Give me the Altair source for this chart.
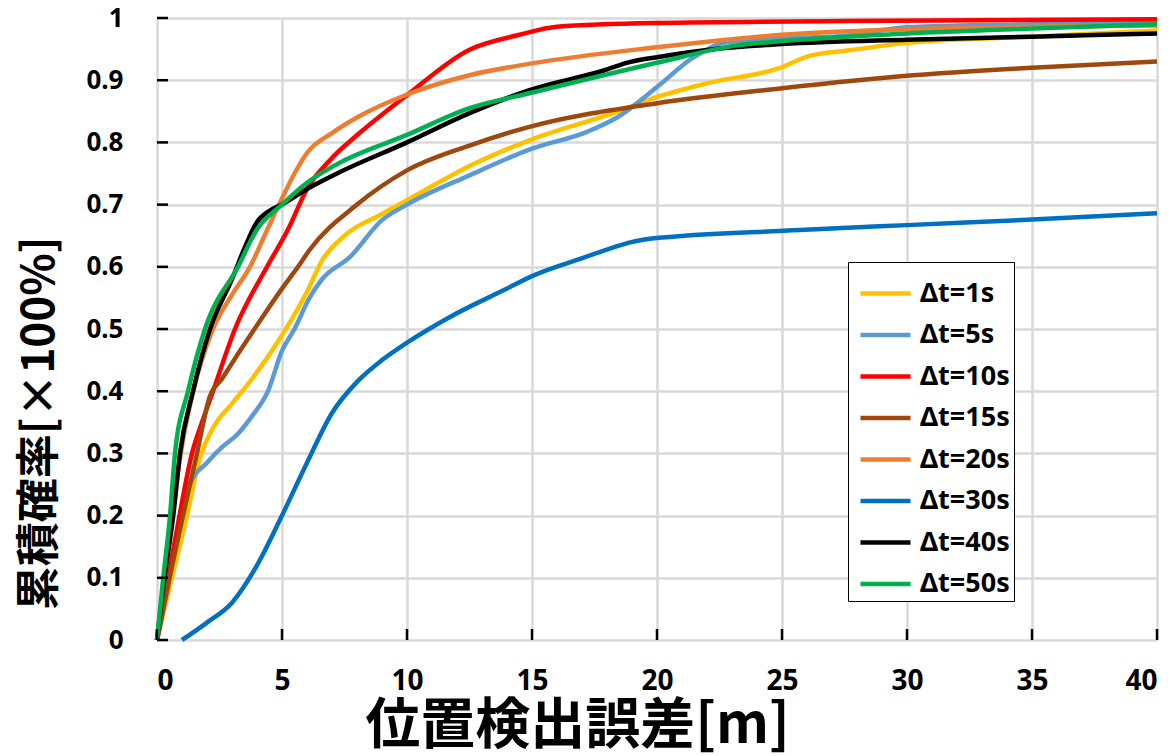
import altair as alt
import pandas as pd

# ---- data ----
series_names = ["Δt=1s", "Δt=5s", "Δt=10s", "Δt=15s", "Δt=20s", "Δt=30s", "Δt=40s", "Δt=50s"]
series_colors = ["#FFC000", "#5B9BD5", "#FF0000", "#9E480E", "#ED7D31", "#0070C0", "#000000", "#00B050"]

x_1s = [0, 0.6, 1.2, 1.7, 2.3, 3, 3.8, 5, 6, 6.6, 7.5, 9, 10, 12.5, 15, 18.4, 20, 22, 25, 26, 27.7, 30, 35, 40]
y_1s = [0, 0.1, 0.2, 0.29, 0.345, 0.38, 0.42, 0.49, 0.56, 0.61, 0.65, 0.685, 0.707, 0.762, 0.805, 0.849, 0.873, 0.895, 0.921, 0.938, 0.948, 0.96, 0.97, 0.98]

x_5s = [0, 0.5, 0.92, 1.3, 2, 2.6, 3.2, 3.8, 4.44, 5, 5.5, 6.1, 6.6, 7.7, 9, 10, 12.5, 15, 17.2, 18.4, 20, 21.4, 22.8, 25, 27.7, 30, 35, 40]
y_5s = [0, 0.1, 0.2, 0.25, 0.285, 0.31, 0.33, 0.36, 0.4, 0.465, 0.5, 0.55, 0.58, 0.615, 0.675, 0.7, 0.747, 0.79, 0.817, 0.84, 0.889, 0.935, 0.961, 0.967, 0.972, 0.985, 0.99, 0.993]

x_10s = [0, 0.45, 0.9, 1.4, 1.8, 2.24, 3.12, 4.4, 5.24, 6, 7, 8.1, 10, 12.5, 14.5, 16, 20, 27.7, 40]
y_10s = [0, 0.1, 0.2, 0.3, 0.35, 0.4, 0.5, 0.6, 0.66, 0.725, 0.775, 0.815, 0.876, 0.949, 0.973, 0.986, 0.992, 0.995, 0.998]

x_15s = [0, 0.5, 1.04, 1.6, 2.1, 2.6, 3.4, 3.9, 5, 5.64, 6.1, 8, 10, 12.5, 14.9, 20, 25, 30, 35, 40]
y_15s = [0, 0.1, 0.2, 0.3, 0.39, 0.42, 0.47, 0.5, 0.565, 0.6, 0.627, 0.7, 0.755, 0.795, 0.825, 0.863, 0.887, 0.907, 0.92, 0.93]

x_20s = [0, 0.3, 0.62, 0.95, 1.45, 2.24, 3, 3.72, 4.3, 5, 5.5, 6, 7, 8, 10, 12.5, 15, 20, 25, 30, 40]
y_20s = [0, 0.1, 0.2, 0.3, 0.4, 0.5, 0.555, 0.6, 0.65, 0.71, 0.75, 0.783, 0.815, 0.84, 0.877, 0.908, 0.927, 0.953, 0.973, 0.982, 0.988]

x_30s = [1, 2, 3, 4, 5, 6, 7, 8, 9, 10, 11.7, 14, 15, 16.8, 19.7, 25.7, 30, 35, 40]
y_30s = [0, 0.028, 0.06, 0.12, 0.2, 0.285, 0.365, 0.415, 0.45, 0.478, 0.519, 0.565, 0.585, 0.611, 0.645, 0.659, 0.667, 0.676, 0.686]

x_40s = [0, 0.3, 0.65, 0.92, 1.44, 2.12, 3, 3.5, 4, 4.5, 5, 6, 7.2, 10, 12.5, 14.9, 17.9, 18.9, 20, 22.5, 25, 30, 35, 40]
y_40s = [0, 0.1, 0.2, 0.3, 0.4, 0.5, 0.58, 0.63, 0.672, 0.69, 0.7, 0.725, 0.75, 0.8, 0.847, 0.884, 0.916, 0.929, 0.937, 0.951, 0.958, 0.965, 0.97, 0.975]

x_50s = [0, 0.25, 0.52, 0.72, 1.24, 1.92, 3.24, 4, 5, 6, 7.2, 10, 12.5, 14.9, 20, 23.2, 25, 30, 35, 40]
y_50s = [0, 0.1, 0.2, 0.3, 0.4, 0.5, 0.6, 0.66, 0.7, 0.735, 0.765, 0.812, 0.855, 0.879, 0.928, 0.956, 0.963, 0.975, 0.983, 0.99]

x_ticks = [0, 5, 10, 15, 20, 25, 30, 35, 40]
y_ticks = [0, 0.1, 0.2, 0.3, 0.4, 0.5, 0.6, 0.7, 0.8, 0.9, 1.0]

xs = [x_1s, x_5s, x_10s, x_15s, x_20s, x_30s, x_40s, x_50s]
ys = [y_1s, y_5s, y_10s, y_15s, y_20s, y_30s, y_40s, y_50s]

rows = []
for order, (name, xv, yv) in enumerate(zip(series_names, xs, ys)):
    for a, b in zip(xv, yv):
        rows.append({"series": name, "order": order, "x": a, "y": b})
df = pd.DataFrame(rows)

FONT = "Noto Sans"
CJK = "Noto Sans CJK JP"

xscale = alt.Scale(domain=[0, 40], nice=False, zero=False)
yscale = alt.Scale(domain=[0, 1], nice=False)

lines = alt.Chart(df).mark_line(strokeWidth=4.5, interpolate="monotone").encode(
    x=alt.X("x:Q", scale=xscale,
            axis=alt.Axis(values=x_ticks, title="位置検出誤差[m]", grid=True, gridColor="#D9D9D9",
                          gridWidth=2.5, ticks=False, domain=False, labelFont=FONT,
                          labelFontSize=28, labelFontWeight="bold", labelColor="black",
                          labelPadding=27, titleFont=CJK, titleFontSize=55, titleFontWeight="bold",
                          titleColor="black", titleX=420, titleY=85, titleBaseline="middle",
                          titleAlign="center")),
    y=alt.Y("y:Q", scale=yscale,
            axis=alt.Axis(values=y_ticks, format="~g", title="累積確率[×100%]", grid=True,
                          gridColor="#D9D9D9", gridWidth=2.5, ticks=False, domain=False,
                          labelFont=FONT, labelFontSize=26, labelFontWeight="bold",
                          labelColor="black", labelPadding=34, titleFont=CJK, titleFontSize=44,
                          titleFontWeight="bold", titleColor="black", titleX=-117, titleY=405,
                          titleAngle=270, titleBaseline="middle", titleAlign="center")),
    color=alt.Color("series:N",
                    scale=alt.Scale(domain=series_names, range=series_colors),
                    legend=alt.Legend(title=None, orient="none", legendX=691, legendY=244,
                                      symbolType="stroke", symbolSize=2500, symbolStrokeWidth=4.5,
                                      symbolOffset=6, labelFont=FONT, labelFontSize=27,
                                      labelFontWeight="bold", labelColor="black", labelOffset=7,
                                      rowPadding=0.5, strokeColor="black", fillColor="white",
                                      padding=4)),
    order=alt.Order("order:Q"),
    detail="series:N",
)

ytick_df = pd.DataFrame({"v": y_ticks})
xtick_df = pd.DataFrame({"v": x_ticks})

yt = alt.Chart(ytick_df).mark_rule(color="black", strokeWidth=2.5).encode(
    y=alt.Y("v:Q", scale=yscale), x=alt.value(0), x2=alt.value(11))
xt = alt.Chart(xtick_df).mark_rule(color="black", strokeWidth=2.5).encode(
    x=alt.X("v:Q", scale=xscale), y=alt.value(622), y2=alt.value(611))

chart = alt.layer(lines, yt, xt).properties(
    width=1000, height=622,
    padding={"left": 157, "top": 18, "right": 19, "bottom": 116},
    autosize=alt.AutoSizeParams(type="none"),
).configure_view(stroke="black", strokeWidth=3).configure(background="white")

chart.save("out.html", embed_options={"renderer": "svg", "actions": False})
